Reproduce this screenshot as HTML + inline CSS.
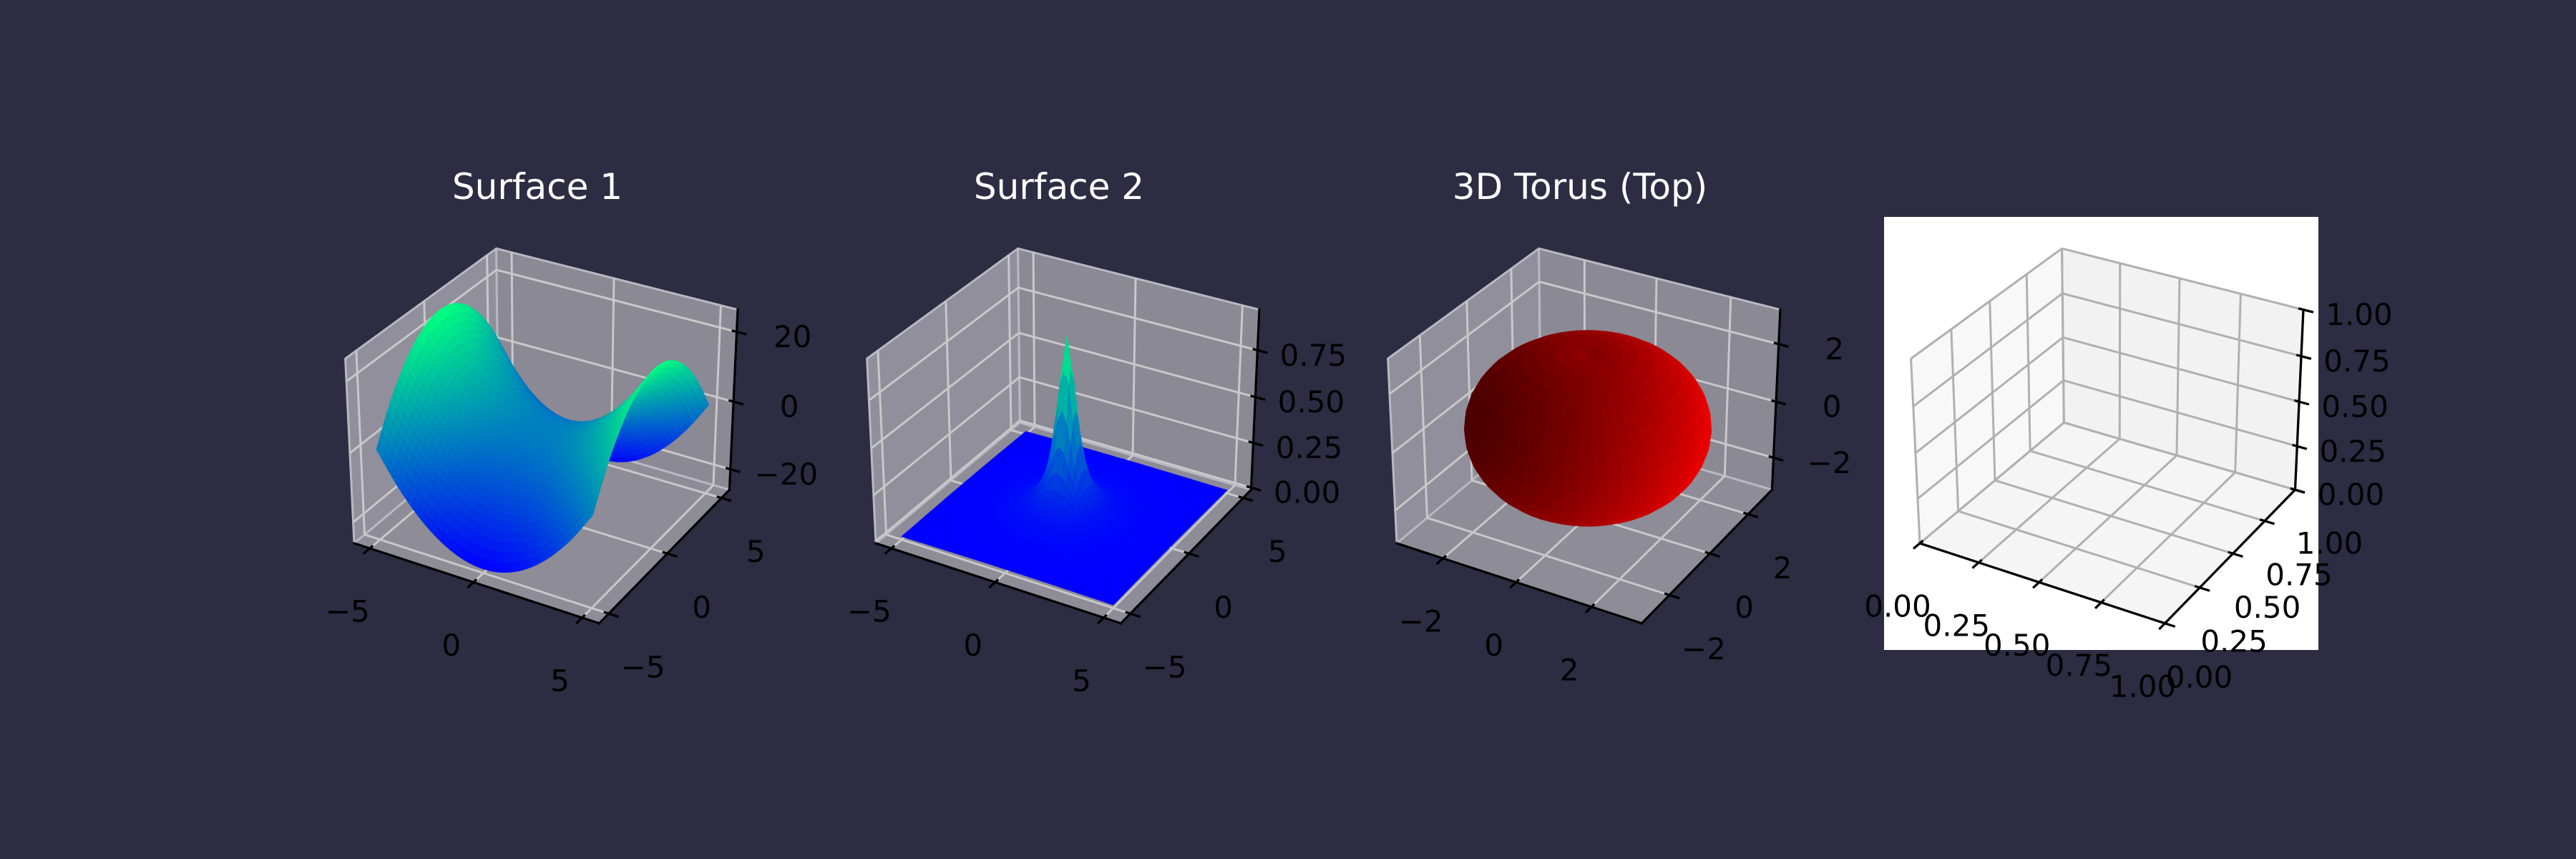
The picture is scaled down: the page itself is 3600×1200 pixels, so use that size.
<!DOCTYPE html>
<html><head><meta charset="utf-8">
<style>
html,body{margin:0;padding:0;background:#2e2c43;}
svg{display:block;}
text{font-family:"DejaVu Sans","Liberation Sans",sans-serif;}
</style></head>
<body>
<svg id="chart" width="3600" height="1200" xmlns="http://www.w3.org/2000/svg">
<rect x="0" y="0" width="3600" height="1200" fill="#2e2c43"/>
</svg>
<script>
// ---------- data ----------
const panelTitles = ["Surface 1", "Surface 2", "3D Torus (Top)", ""];
const s1X = [-5,-4,-3,-2,-1,0,1,2,3,4,5];
const s1Y = [-5,-4,-3,-2,-1,0,1,2,3,4,5];
const s1Z = [
 [0,-9,-16,-21,-24,-25,-24,-21,-16,-9,0],
 [9,0,-7,-12,-15,-16,-15,-12,-7,0,9],
 [16,7,0,-5,-8,-9,-8,-5,0,7,16],
 [21,12,5,0,-3,-4,-3,0,5,12,21],
 [24,15,8,3,0,-1,0,3,8,15,24],
 [25,16,9,4,1,0,1,4,9,16,25],
 [24,15,8,3,0,-1,0,3,8,15,24],
 [21,12,5,0,-3,-4,-3,0,5,12,21],
 [16,7,0,-5,-8,-9,-8,-5,0,7,16],
 [9,0,-7,-12,-15,-16,-15,-12,-7,0,9],
 [0,-9,-16,-21,-24,-25,-24,-21,-16,-9,0]
];
const s2Radius = [0, 0.25, 0.5, 0.75, 1, 1.5, 2, 3, 4, 5, 7.5];
const s2Height = [0.95, 0.76, 0.475, 0.292, 0.19, 0.095, 0.056, 0.026, 0.015, 0.0094, 0.0042];
const torusRadii = [0.4, 2.5];
const p1Ticks = [-5, 0, 5];
const p1TickLabels = ["\u22125", "0", "5"];
const p1ZTicks = [-20, 0, 20];
const p1ZTickLabels = ["\u221220", "0", "20"];
const p2ZTicks = [0, 0.25, 0.5, 0.75];
const p2ZTickLabels = ["0.00", "0.25", "0.50", "0.75"];
const p3Ticks = [-2, 0, 2];
const p3TickLabels = ["\u22122", "0", "2"];
const p4Ticks = [0, 0.25, 0.5, 0.75, 1];
const p4TickLabels = ["0.00", "0.25", "0.50", "0.75", "1.00"];

// ---------- helpers ----------
const NS = 'http://www.w3.org/2000/svg';
const svg = document.getElementById('chart');
function mk(tag, attrs, parent) {
  const e = document.createElementNS(NS, tag);
  for (const k in attrs) e.setAttribute(k, attrs[k]);
  (parent || svg).appendChild(e);
  return e;
}
function makeAxes(dx, xl, yl, zl) {
  const A = [1.1905, 1.1905, 0.8929];
  const Wv = [0.4330, -0.75, 0.5], Uv = [0.8660, 0.5, 0], Vv = [-0.25, 0.4330, 0.8660];
  function raw(a, b, c) {
    const p = [(a - 0.5) * A[0], (b - 0.5) * A[1], (c - 0.5) * A[2]];
    const dz = 10 - (Wv[0]*p[0] + Wv[1]*p[1] + Wv[2]*p[2]);
    return [(Uv[0]*p[0] + Uv[1]*p[1]) / dz, (Vv[0]*p[0] + Vv[1]*p[1] + Vv[2]*p[2]) / dz, dz];
  }
  const r0 = raw(0,0,0), r1 = raw(1,0,0), r3 = raw(0,0,1);
  const P0 = [495 + dx, 759], P1 = [837.5 + dx, 871], PT = [483.5 + dx, 501];
  const sx = (P1[0] - P0[0]) / (r1[0] - r0[0]);
  const sy = (P0[1] - PT[1]) / (r3[1] - r0[1]);
  const ox = P0[0] - sx * r0[0], oy = P0[1] + sy * r0[1];
  function n(a, b, c) { const r = raw(a, b, c); return [ox + sx*r[0], oy - sy*r[1], r[2]]; }
  function nx(x) { return (x - xl[0]) / (xl[1] - xl[0]); }
  function ny(y) { return (y - yl[0]) / (yl[1] - yl[0]); }
  function nz(z) { return (z - zl[0]) / (zl[1] - zl[0]); }
  function d(x, y, z) { return n(nx(x), ny(y), nz(z)); }
  return {n, d, nx, ny, nz, dx};
}
function pts(arr) { return arr.map(p => p[0].toFixed(1) + ',' + p[1].toFixed(1)).join(' '); }

function drawFrame(ax, g, xt, xlab, yt, ylab, zt, zlab, light) {
  const paneFill = light ? ['#f8f8f8', '#f2f2f2', '#f5f5f5'] : ['#908f9b', '#8a8994', '#8d8c97'];
  const paneStroke = light ? '#ececec' : '#b9b8c2';
  const gridCol = light ? '#b0b0b0' : '#c8c8c8';
  const n = ax.n;
  const panes = [
    [[0,0,0],[0,1,0],[0,1,1],[0,0,1]],
    [[0,1,0],[1,1,0],[1,1,1],[0,1,1]],
    [[0,0,0],[1,0,0],[1,1,0],[0,1,0]]
  ];
  panes.forEach((pn, i) => {
    const p = mk('polygon', {points: pts(pn.map(c => n(c[0], c[1], c[2]))), fill: paneFill[i], stroke: paneStroke, 'stroke-width': 3, 'stroke-linejoin': 'round'}, g);
    
    
  });
  function gline(a, b) {
    const A = n(a[0], a[1], a[2]), B = n(b[0], b[1], b[2]);
    const l = mk('line', {x1: A[0], y1: A[1], x2: B[0], y2: B[1], stroke: gridCol, 'stroke-width': 3}, g);
    
    
  }
  xt.forEach(t => { const u = ax.nx(t); gline([u,0,0],[u,1,0]); gline([u,1,0],[u,1,1]); });
  yt.forEach(t => { const v = ax.ny(t); gline([0,v,0],[1,v,0]); gline([0,v,0],[0,v,1]); });
  zt.forEach(t => { const w = ax.nz(t); gline([0,0,w],[0,1,w]); gline([0,1,w],[1,1,w]); });
  function aline(a, b, name) {
    const A = n(a[0], a[1], a[2]), B = n(b[0], b[1], b[2]);
    const l = mk('line', {x1: A[0], y1: A[1], x2: B[0], y2: B[1], stroke: '#000', 'stroke-width': 3.3, 'stroke-linecap': 'square'}, g);
    
    
    return l;
  }
  aline([0,0,0],[1,0,0], 'x-axis-line');
  aline([1,0,0],[1,1,0], 'y-axis-line');
  aline([1,1,0],[1,1,1], 'z-axis-line');
  function label(P, off, txt, name) {
    const t = mk('text', {x: (P[0] + off[0]).toFixed(1), y: (P[1] + off[1]).toFixed(1), 'font-size': 42, fill: '#000', 'text-anchor': 'middle', 'dominant-baseline': 'central'}, g);
    t.textContent = txt;
    
    
  }
  xt.forEach((t, i) => {
    const u = ax.nx(t);
    aline([u,-0.035,0],[u,0.015,0], 'x-tick');
    label(n(u,0,0), [-31, 88], xlab[i], 'x-tick-label');
  });
  yt.forEach((t, i) => {
    const v = ax.ny(t);
    aline([0.985,v,0],[1.035,v,0], 'y-tick');
    label(n(1,v,0), [48, 75], ylab[i], 'y-tick-label');
  });
  zt.forEach((t, i) => {
    const w = ax.nz(t);
    aline([0.985,1,w],[1.035,1,w], 'z-tick');
    label(n(1,1,w), [78, 7], zlab[i], 'z-tick-label');
  });
}
function winter(t) {
  t = Math.max(0, Math.min(1, t));
  return 'rgb(0,' + Math.round(255 * t) + ',' + Math.round(255 * (1 - 0.5 * t)) + ')';
}
function drawFacets(g, facets) {
  facets.sort((a, b) => b.depth - a.depth);
  facets.forEach(f => {
    const p = mk('polygon', {points: pts(f.pts), fill: f.color, stroke: f.color, 'stroke-width': 0.8, 'stroke-linejoin': 'round'}, g);
    
    
  });
}
function title(ax, txt) {
  const t = mk('text', {x: 751 + ax.dx, y: 278, 'font-size': 50, fill: '#ffffff', 'text-anchor': 'middle'});
  t.textContent = txt;
  
  
}

// ---------- panel 1 : saddle ----------
function gv(Z, i, j) {
  const nI = Z[0].length, nJ = Z.length;
  if (i < 0) return 2 * gv(Z, 0, j) - gv(Z, 1, j);
  if (i >= nI) return 2 * gv(Z, nI - 1, j) - gv(Z, nI - 2, j);
  if (j < 0) return 2 * gv(Z, i, 0) - gv(Z, i, 1);
  if (j >= nJ) return 2 * gv(Z, i, nJ - 1) - gv(Z, i, nJ - 2);
  return Z[j][i];
}
function cr(p0, p1, p2, p3, t) {
  return 0.5 * ((2*p1) + (-p0 + p2)*t + (2*p0 - 5*p1 + 4*p2 - p3)*t*t + (-p0 + 3*p1 - 3*p2 + p3)*t*t*t);
}
function sampleGrid(xs, ys, Z, x, y) {
  let fx = (x - xs[0]) / (xs[1] - xs[0]), fy = (y - ys[0]) / (ys[1] - ys[0]);
  let i = Math.min(Math.floor(fx), xs.length - 2), j = Math.min(Math.floor(fy), ys.length - 2);
  const tx = fx - i, ty = fy - j;
  const rows = [];
  for (let k = -1; k <= 2; k++) rows.push(cr(gv(Z,i-1,j+k), gv(Z,i,j+k), gv(Z,i+1,j+k), gv(Z,i+2,j+k), tx));
  return cr(rows[0], rows[1], rows[2], rows[3], ty);
}
{
  const ax = makeAxes(0, [-5.77, 5.77], [-5.77, 5.77], [-26.2, 26.2]);
  const g = mk('g', {});
  
  
  drawFrame(ax, g, p1Ticks, p1TickLabels, p1Ticks, p1TickLabels, p1ZTicks, p1ZTickLabels, false);
  const N = 44, x0 = s1X[0], x1 = s1X[s1X.length - 1], y0 = s1Y[0], y1 = s1Y[s1Y.length - 1];
  let zmin = Infinity, zmax = -Infinity;
  s1Z.forEach(r => r.forEach(v => { zmin = Math.min(zmin, v); zmax = Math.max(zmax, v); }));
  const V = [];
  for (let j = 0; j <= N; j++) { V.push([]); for (let i = 0; i <= N; i++) {
    const x = x0 + (x1 - x0) * i / N, y = y0 + (y1 - y0) * j / N;
    const z = sampleGrid(s1X, s1Y, s1Z, x, y);
    V[j].push({p: ax.d(x, y, z), z});
  } }
  const facets = [];
  for (let j = 0; j < N; j++) for (let i = 0; i < N; i++) {
    const q = [V[j][i], V[j][i+1], V[j+1][i+1], V[j+1][i]];
    const zc = (q[0].z + q[1].z + q[2].z + q[3].z) / 4;
    facets.push({pts: q.map(o => o.p), depth: (q[0].p[2]+q[1].p[2]+q[2].p[2]+q[3].p[2])/4, color: winter((zc - zmin)/(zmax - zmin)), name: 'surface-1-facet'});
  }
  drawFacets(g, facets);
  title(ax, panelTitles[0]);
}

// ---------- panel 2 : peak ----------
function radialHeight(r) {
  for (let k = 0; k < s2Radius.length - 1; k++) {
    if (r <= s2Radius[k+1]) {
      const t = (r - s2Radius[k]) / (s2Radius[k+1] - s2Radius[k]);
      return s2Height[k] + (s2Height[k+1] - s2Height[k]) * t;
    }
  }
  return s2Height[s2Height.length - 1];
}
{
  const ax = makeAxes(729, [-5.77, 5.77], [-5.77, 5.77], [-0.012, 0.962]);
  const g = mk('g', {});
  
  
  drawFrame(ax, g, p1Ticks, p1TickLabels, p1Ticks, p1TickLabels, p2ZTicks, p2ZTickLabels, false);
  const N = 50;
  const zmax = Math.max(...s2Height), zmin = radialHeight(Math.hypot(5, 5));
  const V = [];
  for (let j = 0; j <= N; j++) { V.push([]); for (let i = 0; i <= N; i++) {
    const x = -5 + 10 * i / N, y = -5 + 10 * j / N;
    const z = radialHeight(Math.hypot(x, y));
    V[j].push({p: ax.d(x, y, z), z});
  } }
  const facets = [];
  for (let j = 0; j < N; j++) for (let i = 0; i < N; i++) {
    const q = [V[j][i], V[j][i+1], V[j+1][i+1], V[j+1][i]];
    const zc = (q[0].z + q[1].z + q[2].z + q[3].z) / 4;
    facets.push({pts: q.map(o => o.p), depth: (q[0].p[2]+q[1].p[2]+q[2].p[2]+q[3].p[2])/4, color: winter((zc - zmin)/(zmax - zmin)), name: 'surface-2-facet'});
  }
  drawFacets(g, facets);
  title(ax, panelTitles[1]);
}

// ---------- panel 3 : torus ----------
{
  const ax = makeAxes(1457, [-3.3, 3.3], [-3.3, 3.3], [-3.17, 3.17]);
  const g = mk('g', {});
  
  
  drawFrame(ax, g, p3Ticks, p3TickLabels, p3Ticks, p3TickLabels, p3Ticks, p3TickLabels, false);
  const R = torusRadii[0], r = torusRadii[1];
  const NU = 56, NV = 40;
  const L = [0.667, 0.667, -0.333];
  const facets = [];
  function P(u, v) { return [(R + r*Math.cos(v))*Math.cos(u), (R + r*Math.cos(v))*Math.sin(u), r*Math.sin(v)]; }
  for (let a = 0; a < NU; a++) for (let b = 0; b < NV; b++) {
    const u0 = 2*Math.PI*a/NU, u1 = 2*Math.PI*(a+1)/NU, v0 = 2*Math.PI*b/NV, v1 = 2*Math.PI*(b+1)/NV;
    const q = [P(u0,v0), P(u1,v0), P(u1,v1), P(u0,v1)].map(c => ax.d(c[0], c[1], c[2]));
    const um = (u0+u1)/2, vm = (v0+v1)/2;
    const nrm = [Math.cos(vm)*Math.cos(um), Math.cos(vm)*Math.sin(um), Math.sin(vm)];
    const dot = nrm[0]*L[0] + nrm[1]*L[1] + nrm[2]*L[2];
    const f = 0.3 + 0.7 * (dot + 1) / 2;
    facets.push({pts: q, depth: (q[0][2]+q[1][2]+q[2][2]+q[3][2])/4, color: 'rgb(' + Math.round(255*f) + ',0,0)', name: 'torus-facet'});
  }
  drawFacets(g, facets);
  title(ax, panelTitles[2]);
}

// ---------- panel 4 : empty axes ----------
{
  const ax = makeAxes(2188, [0, 1], [0, 1], [0, 1]);
  const bg = mk('rect', {x: 2633, y: 303, width: 607, height: 605, fill: '#ffffff'});
  
  
  const g = mk('g', {});
  
  
  drawFrame(ax, g, p4Ticks, p4TickLabels, p4Ticks, p4TickLabels, p4Ticks, p4TickLabels, true);
}
</script>
</body></html>
